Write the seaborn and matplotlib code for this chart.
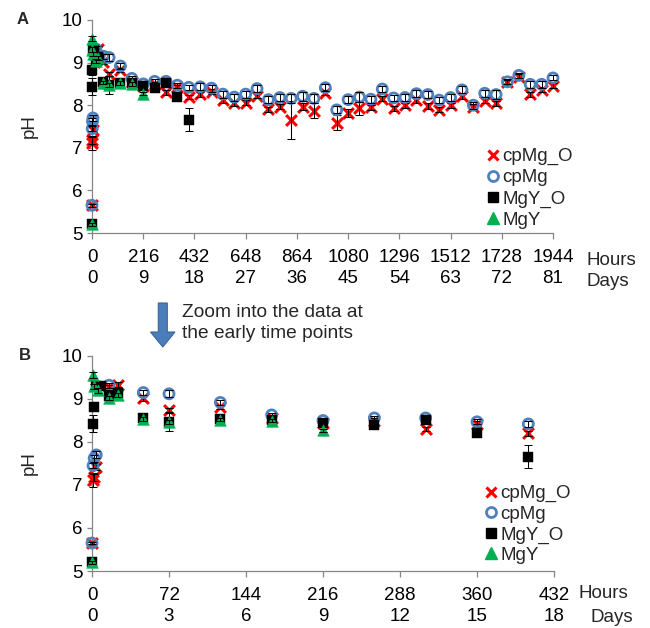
import numpy as np
import pandas as pd
import matplotlib
matplotlib.use("Agg")
import matplotlib.pyplot as plt
from matplotlib.lines import Line2D
from matplotlib.patches import Polygon
import seaborn as sns

# ---- pH readings (mean and error-bar half width), time in hours ----
hours_cpmg_o = [0, 1, 2, 4, 16, 24, 48, 72, 120, 168, 216, 264, 312, 360, 408,
                456, 504, 552, 600, 648, 696, 744, 792, 840, 888, 936, 984, 1032,
                1080, 1128, 1176, 1224, 1272, 1320, 1368, 1416, 1464, 1512, 1560,
                1608, 1656, 1704, 1752, 1800, 1848, 1896, 1944]
ph_cpmg_o = [5.65, 7.12, 7.18, 7.42, 9.28, 9.33, 9.02, 8.74, 8.82, 8.55, 8.45,
             8.50, 8.30, 8.43, 8.20,
             8.26, 8.32, 8.12, 8.04, 8.06, 8.22, 7.90, 7.96, 7.65, 7.96, 7.87,
             8.29, 7.59, 7.82, 7.93, 7.95, 8.15, 7.93, 8.00, 8.12, 7.98, 7.89,
             8.00, 8.21, 7.96, 8.10, 8.04, 8.54, 8.67, 8.26, 8.36, 8.46]
err_cpmg_o = [0.03, 0.16, 0.08, 0.06, 0.05, 0.06, 0.06, 0.05, 0.05, 0.05, 0.05,
              0.05, 0.05, 0.05, 0.05,
              0.06, 0.06, 0.06, 0.06, 0.06, 0.06, 0.06, 0.06, 0.45, 0.08, 0.17,
              0.06, 0.17, 0.10, 0.15, 0.06, 0.06, 0.06, 0.06, 0.06, 0.06, 0.06,
              0.06, 0.06, 0.06, 0.06, 0.06, 0.06, 0.06, 0.06, 0.06, 0.06]

hours_cpmg = [0, 1, 2, 4, 16, 48, 72, 120, 168, 216, 264, 312, 360, 408,
              456, 504, 552, 600, 648, 696, 744, 792, 840, 888, 936, 984, 1032,
              1080, 1128, 1176, 1224, 1272, 1320, 1368, 1416, 1464, 1512, 1560,
              1608, 1656, 1704, 1752, 1800, 1848, 1896, 1944]
ph_cpmg = [5.65, 7.45, 7.62, 7.70, 9.32, 9.15, 9.12, 8.92, 8.63, 8.50, 8.56,
           8.56, 8.47, 8.42,
           8.43, 8.40, 8.26, 8.19, 8.26, 8.39, 8.13, 8.18, 8.16, 8.21, 8.16,
           8.41, 7.89, 8.13, 8.19, 8.14, 8.38, 8.17, 8.18, 8.27, 8.25, 8.12,
           8.18, 8.36, 8.00, 8.28, 8.25, 8.55, 8.70, 8.49, 8.49, 8.64]
err_cpmg = [0.03, 0.06, 0.08, 0.08, 0.06, 0.06, 0.08, 0.06, 0.05, 0.05, 0.05,
            0.05, 0.06, 0.06,
            0.08, 0.08, 0.08, 0.08, 0.08, 0.08, 0.08, 0.08, 0.10, 0.10, 0.10,
            0.08, 0.08, 0.08, 0.12, 0.08, 0.08, 0.08, 0.08, 0.08, 0.08, 0.08,
            0.08, 0.08, 0.08, 0.08, 0.10, 0.06, 0.06, 0.08, 0.08, 0.06]

hours_mgy_o = [0, 1, 2, 4, 8, 16, 24, 48, 72, 120, 168, 216, 264, 312, 360, 408]
ph_mgy_o = [5.20, 8.43, 8.82, 9.30, 9.30, 9.07, 9.13, 8.55, 8.47, 8.53, 8.51,
            8.45, 8.40, 8.51, 8.20, 7.66]
err_mgy_o = [0.03, 0.20, 0.10, 0.06, 0.06, 0.15, 0.06, 0.05, 0.21, 0.05, 0.05,
             0.05, 0.05, 0.05, 0.05, 0.27]

hours_mgy = [0, 1, 2, 6, 16, 24, 48, 72, 120, 168, 216]
ph_mgy = [5.20, 9.56, 9.30, 9.20, 9.03, 9.10, 8.53, 8.47, 8.52, 8.50, 8.27]
err_mgy = [0.03, 0.06, 0.06, 0.05, 0.05, 0.05, 0.04, 0.04, 0.04, 0.04, 0.04]

labels = ["cpMg_O", "cpMg", "MgY_O", "MgY"]

hour_ticks_a = [0, 216, 432, 648, 864, 1080, 1296, 1512, 1728, 1944]
day_ticks_a = [0, 9, 18, 27, 36, 45, 54, 63, 72, 81]
hour_ticks_b = [0, 72, 144, 216, 288, 360, 432]
day_ticks_b = [0, 3, 6, 9, 12, 15, 18]
ph_ticks = [5, 6, 7, 8, 9, 10]

# ---- styling ----
RED = "#FF0000"
BLUE = "#4F81BD"
GREEN = "#00B050"
AXIS_GREY = "#868686"
FS = 13.5

sns.set_theme(style="ticks")
plt.rcParams["font.family"] = ["Liberation Sans", "DejaVu Sans"]

series = [
    (labels[0], hours_cpmg_o, ph_cpmg_o, err_cpmg_o,
     dict(marker="x", s=60, color=RED, linewidth=2.2)),
    (labels[1], hours_cpmg, ph_cpmg, err_cpmg,
     dict(marker="o", s=52, facecolor="none", edgecolor=BLUE, linewidth=2.0)),
    (labels[2], hours_mgy_o, ph_mgy_o, err_mgy_o,
     dict(marker="s", s=60, color="black", edgecolor="black", linewidth=0.3)),
    (labels[3], hours_mgy, ph_mgy, err_mgy,
     dict(marker="^", s=72, color=GREEN, edgecolor=GREEN, linewidth=0.3)),
]

W, H = 650, 628
fig = plt.figure(figsize=(W / 100, H / 100), dpi=100)


def px_box(left, top, right, bottom):
    return [left / W, 1 - bottom / H, (right - left) / W, (bottom - top) / H]


def draw_panel(ax, xmax, hour_ticks, day_ticks):
    for i, (name, h, v, e, style) in enumerate(series):
        df = pd.DataFrame({"hours": h, "pH": v, "err": e})
        df = df[df["hours"] <= xmax]
        z = 3 + i * 0.2
        sns.scatterplot(data=df, x="hours", y="pH", ax=ax, legend=False,
                        clip_on=False, zorder=z, **style)
        cont = ax.errorbar(df["hours"], df["pH"], yerr=df["err"], fmt="none",
                           ecolor="black", elinewidth=0.75, capsize=2.6,
                           capthick=0.75, zorder=z + 0.1)
        for art in list(cont.lines[1]) + list(cont.lines[2]):
            art.set_clip_on(False)

    ax.set_xlim(0, xmax)
    ax.set_ylim(5, 10)
    ax.set_xticks(hour_ticks)
    ax.set_xticklabels([f"{hh}\n{dd}" for hh, dd in zip(hour_ticks, day_ticks)],
                       linespacing=1.28)
    ax.set_yticks(ph_ticks)
    ax.set_yticklabels([str(t) for t in ph_ticks])
    ax.tick_params(axis="x", direction="out", length=4.5, width=0.9,
                   color=AXIS_GREY, labelsize=FS, pad=7.0, labelcolor="black")
    ax.tick_params(axis="y", direction="out", length=3.5, width=0.9,
                   color=AXIS_GREY, labelsize=FS, pad=3.5, labelcolor="black")
    sns.despine(ax=ax)
    for side in ("left", "bottom"):
        ax.spines[side].set_color(AXIS_GREY)
        ax.spines[side].set_linewidth(0.9)
        ax.spines[side].set_zorder(1)
    ax.set_xlabel("")
    ax.set_ylabel("pH", fontsize=FS)
    ax.yaxis.set_label_coords(-0.117, 0.5)
    ax.set_facecolor("none")

    handles = [
        Line2D([], [], linestyle="none", marker="x", markersize=7.8,
               markeredgewidth=2.2, color=RED),
        Line2D([], [], linestyle="none", marker="o", markersize=7.2,
               markerfacecolor="none", markeredgewidth=2.0,
               markeredgecolor=BLUE),
        Line2D([], [], linestyle="none", marker="s", markersize=7.6,
               color="black"),
        Line2D([], [], linestyle="none", marker="^", markersize=8.4,
               color=GREEN),
    ]
    return handles


axA = fig.add_axes(px_box(92, 20, 553, 233))
hA = draw_panel(axA, 1944, hour_ticks_a, day_ticks_a)
axA.legend(hA, labels, loc="upper left", bbox_to_anchor=(485 / W, 1 - 148 / H),
           bbox_transform=fig.transFigure, frameon=False, fontsize=FS,
           handlelength=0.8, handletextpad=0.12, labelspacing=0.21,
           borderpad=0, borderaxespad=0)

axB = fig.add_axes(px_box(92, 356, 554, 571))
hB = draw_panel(axB, 432, hour_ticks_b, day_ticks_b)
axB.legend(hB, labels, loc="upper left", bbox_to_anchor=(483 / W, 1 - 485 / H),
           bbox_transform=fig.transFigure, frameon=False, fontsize=FS,
           handlelength=0.8, handletextpad=0.12, labelspacing=0.18,
           borderpad=0, borderaxespad=0)

# axis unit captions to the right of the tick labels
fig.text(586.5 / W, 1 - 265 / H, "Hours", fontsize=FS, va="baseline")
fig.text(586 / W, 1 - 286 / H, "Days", fontsize=FS, va="baseline")
fig.text(578 / W, 1 - 598.5 / H, "Hours", fontsize=FS, va="baseline")
fig.text(590 / W, 1 - 621.5 / H, "Days", fontsize=FS, va="baseline")

# panel letters
fig.text(23 / W, 1 - 19 / H, "A", fontsize=12, fontweight="bold",
         ha="center", va="center")
fig.text(25 / W, 1 - 355 / H, "B", fontsize=12, fontweight="bold",
         ha="center", va="center")

# downward arrow with its caption between the panels
overlay = fig.add_axes([0, 0, 1, 1], zorder=-1)
overlay.set_xlim(0, W)
overlay.set_ylim(H, 0)
overlay.axis("off")
arrow = Polygon([(158.3, 303), (167.3, 303), (167.3, 332), (175, 332),
                 (162.8, 347), (150.5, 332), (158.3, 332)],
                closed=True, facecolor="#4A7DBA", edgecolor="#3B6699",
                linewidth=0.8)
overlay.add_patch(arrow)
fig.text(181.7 / W, 1 - 316.7 / H, "Zoom into the data at", fontsize=13.8,
         va="baseline")
fig.text(181.7 / W, 1 - 338.3 / H, "the early time points", fontsize=13.8,
         va="baseline")

fig.savefig("out.png", dpi=100, facecolor="white")
